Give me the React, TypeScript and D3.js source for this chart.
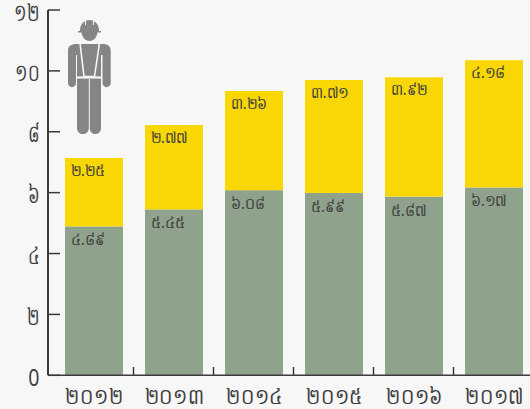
import React from "react";
import * as d3 from "d3";

const years = ["២០១២", "២០១៣", "២០១៤", "២០១៥", "២០១៦", "២០១៧"];
const lower = [4.89, 5.45, 6.08, 5.99, 5.87, 6.17];
const upper = [2.25, 2.77, 3.26, 3.71, 3.92, 4.18];
const lowerLabels = ["៤.៨៩", "៥.៤៥", "៦.០៨", "៥.៩៩", "៥.៨៧", "៦.១៧"];
const upperLabels = ["២.២៥", "២.៧៧", "៣.២៦", "៣.៧១", "៣.៩២", "៤.១៨"];
const yTicks = [0, 2, 4, 6, 8, 10, 12];
const yTickLabels = ["0", "២", "៤", "៦", "៨", "១០", "១២"];

const W = 530, H = 409;
const BG = "#f7f7f7", GREEN = "#8ea28c", YELLOW = "#f8d705", AXIS = "#3a3a3a", TEXT = "#3f3f3f", ICON = "#858684";
const FONT = "'Noto Sans', 'DejaVu Sans', 'Liberation Sans', sans-serif";

const y = d3.scaleLinear().domain([0, 12]).range([375.3, 10]);
const x = d3.scaleBand<number>().domain(d3.range(6)).range([65, 523]).paddingInner(0.275).paddingOuter(0);

export default function App() {
  const bw = x.bandwidth();
  return (
    <svg width={W} height={H} style={{ position: "fixed", left: 0, top: 0, background: BG }}>
      <rect width={W} height={H} fill={BG} />
      {d3.range(6).map((i) => {
        const l = x(i)!;
        return (
          <g key={i}>
            <rect x={l} y={y(lower[i])} width={bw} height={y(0) - y(lower[i])} fill={GREEN} />
            <rect x={l} y={y(lower[i] + upper[i])} width={bw} height={y(lower[i]) - y(lower[i] + upper[i])} fill={YELLOW} />
            <text transform={`translate(${l + 5.5},${y(lower[i] + upper[i]) + 18}) scale(0.95,1.05)`} fontSize={15} fill={TEXT} fontFamily={FONT}>{upperLabels[i]}</text>
            <text transform={`translate(${l + 5.5},${y(lower[i]) + 19}) scale(0.95,1.05)`} fontSize={15} fill={TEXT} fontFamily={FONT}>{lowerLabels[i]}</text>
            <text transform={`translate(${l + bw / 2 + 0.5},404) scale(0.86,1)`} fontSize={22} textAnchor="middle" fill={TEXT} fontFamily={FONT}>{years[i]}</text>
            {i < 5 && <line x1={l + bw + 10.5} x2={l + bw + 10.5} y1={367} y2={376} stroke={AXIS} strokeWidth={1.5} />}
          </g>
        );
      })}
      <line x1={48} x2={530} y1={y(0)} y2={y(0)} stroke={AXIS} strokeWidth={1.5} />
      <line x1={48} x2={48} y1={y(12)} y2={y(0)} stroke={AXIS} strokeWidth={2} />
      {yTicks.map((t, i) => (
        <g key={t}>
          <line x1={48} x2={60} y1={y(t)} y2={y(t)} stroke={AXIS} strokeWidth={1.5} />
          <text transform={`translate(39.5,${y(t) + 10.5}) scale(${i === 0 ? 0.85 : 0.72},1.05)`} fontSize={23} textAnchor="end" fill={TEXT} fontFamily={FONT}>{yTickLabels[i]}</text>
        </g>
      ))}
      <g fill={ICON}>
        <path d="M80 31 C80 24 84 20 89.5 20 C95 20 99 24 99 31 L101 31 V32.5 H78 V31Z" />
        <path d="M81.5 32 H97.5 C97 37 94 41 89.5 41 C85 41 82 37 81.5 32Z" />
        <path d="M68 51 C68 46 71 44 76 44 H103 C108 44 110.7 46 110.7 51 V83 C110.7 88.5 102.5 88.5 102.5 83 V55 H101 V128 C101 136 89.8 136 89.8 128 V79 H88.8 V128 C88.8 136 77 136 77 128 V55 H76 V83 C76 88.5 68 88.5 68 83Z" />
      </g>
      <g stroke={BG} strokeWidth={1.6} fill="none">
        <path d="M80 43 L84 76.5 H94.5 L99.5 43" />
        <path d="M77 77.5 H101.5" strokeWidth={2.2} />
        <path d="M85.5 20 V25 M93.5 20 V25" strokeWidth={1} />
      </g>
    </svg>
  );
}
